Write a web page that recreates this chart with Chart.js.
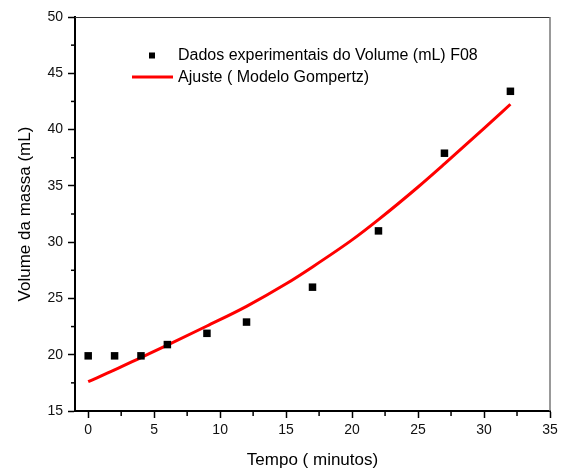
<!DOCTYPE html>
<html lang="pt">
<head>
    <meta charset="UTF-8">
    <title>Volume da massa - F08</title>
    <script src="https://cdn.jsdelivr.net/npm/chart.js"></script>
    <style>
        body { margin: 0; background: white; }
        canvas { display: block; }
    </style>
</head>
<body>
    <canvas id="grafico" width="563" height="471"></canvas>

    <script>
        // Dados experimentais (F08)
        const tempo = [0, 2, 4, 6, 9, 12, 17, 22, 27, 32];
        const volume = [19.9, 19.9, 19.9, 20.9, 21.9, 22.9, 26.0, 31.0, 37.9, 43.4];

        // Curva de ajuste
        const ajusteTempo = [0, 2, 4, 6, 9, 12, 15, 17, 20, 22, 25, 27, 30, 32];
        const ajusteVolume = [17.6, 18.65, 19.75, 20.85, 22.55, 24.3, 26.3, 27.8, 30.2, 32.0, 34.9, 36.95, 40.1, 42.25];

        const ticksX = [0, 5, 10, 15, 20, 25, 30, 35];
        const ticksY = [15, 20, 25, 30, 35, 40, 45, 50];

        const legendaDados = 'Dados experimentais do Volume (mL) F08';
        const legendaAjuste = 'Ajuste ( Modelo Gompertz)';

        const fonte = '"Liberation Sans", Arial, sans-serif';

        // ticks menores + bordas de cima/direita + legenda
        const extras = {
            id: 'extras',
            afterDraw(chart) {
                const ctx = chart.ctx;
                const area = chart.chartArea;
                const sx = chart.scales.x, sy = chart.scales.y;
                ctx.save();

                ctx.strokeStyle = '#333';
                ctx.lineWidth = 1;
                ctx.beginPath();
                ctx.moveTo(area.left, area.top + 0.5);
                ctx.lineTo(area.right, area.top + 0.5);
                ctx.stroke();
                ctx.strokeStyle = '#777';
                ctx.lineWidth = 1.5;
                ctx.beginPath();
                ctx.moveTo(area.right, area.top);
                ctx.lineTo(area.right, area.bottom);
                ctx.stroke();

                ctx.strokeStyle = '#000';
                ctx.lineWidth = 1.5;
                for (let i = 0; i < ticksX.length - 1; i++) {
                    const px = sx.getPixelForValue((ticksX[i] + ticksX[i + 1]) / 2);
                    ctx.beginPath();
                    ctx.moveTo(px, area.bottom);
                    ctx.lineTo(px, area.bottom + 5);
                    ctx.stroke();
                }
                for (let i = 0; i < ticksY.length - 1; i++) {
                    const py = sy.getPixelForValue((ticksY[i] + ticksY[i + 1]) / 2);
                    ctx.beginPath();
                    ctx.moveTo(area.left, py);
                    ctx.lineTo(area.left - 4, py);
                    ctx.stroke();
                }

                // legenda
                ctx.font = '16px ' + fonte;
                ctx.fillStyle = '#000';
                ctx.textBaseline = 'middle';
                ctx.fillRect(area.left + 74, area.top + 35.5, 6, 6);
                ctx.fillText(legendaDados, area.left + 103, area.top + 38.5);
                ctx.strokeStyle = '#ff0000';
                ctx.lineWidth = 3;
                ctx.beginPath();
                ctx.moveTo(area.left + 57, area.top + 60);
                ctx.lineTo(area.left + 98, area.top + 60);
                ctx.stroke();
                ctx.fillText(legendaAjuste, area.left + 103, area.top + 61);
                ctx.restore();
            }
        };

        const ctx = document.getElementById('grafico').getContext('2d');
        new Chart(ctx, {
            type: 'scatter',
            data: {
                datasets: [
                    {
                        label: legendaDados,
                        data: tempo.map((t, i) => ({ x: t, y: volume[i] })),
                        pointStyle: 'rect',
                        pointRadius: 5.3,
                        backgroundColor: '#000',
                        borderColor: '#000',
                        borderWidth: 0,
                        order: 1
                    },
                    {
                        label: legendaAjuste,
                        type: 'line',
                        data: ajusteTempo.map((t, i) => ({ x: t, y: ajusteVolume[i] })),
                        borderColor: '#ff0000',
                        borderWidth: 3,
                        pointRadius: 0,
                        fill: false,
                        cubicInterpolationMode: 'monotone',
                        order: 2
                    }
                ]
            },
            options: {
                responsive: false,
                animation: false,
                layout: { padding: { top: 17, right: 13, left: 0, bottom: 0 } },
                plugins: {
                    legend: { display: false },
                    tooltip: { enabled: false }
                },
                scales: {
                    x: {
                        type: 'linear',
                        min: -1,
                        max: 35,
                        afterBuildTicks: s => { s.ticks = ticksX.map(v => ({ value: v })); },
                        afterFit: s => { s.height = 60; },
                        border: { color: '#000', width: 2 },
                        grid: { drawOnChartArea: false, tickLength: 7, tickColor: '#000', tickWidth: 1.5 },
                        ticks: { color: '#111', padding: 4, font: { family: fonte, size: 14 } },
                        title: {
                            display: true,
                            text: 'Tempo ( minutos)',
                            color: '#000',
                            padding: { top: 0, bottom: 0 },
                            font: { family: fonte, size: 17 }
                        }
                    },
                    y: {
                        type: 'linear',
                        min: 15,
                        max: 50,
                        afterBuildTicks: s => { s.ticks = ticksY.map(v => ({ value: v })); },
                        afterFit: s => { s.width = 75; },
                        border: { color: '#000', width: 2 },
                        grid: { drawOnChartArea: false, tickLength: 7, tickColor: '#000', tickWidth: 1.5 },
                        ticks: { color: '#111', padding: 5, font: { family: fonte, size: 14 } },
                        title: {
                            display: true,
                            text: 'Volume da massa (mL)',
                            color: '#000',
                            padding: { top: 15, bottom: 0 },
                            font: { family: fonte, size: 17 }
                        }
                    }
                }
            },
            plugins: [extras]
        });
    </script>
</body>
</html>
